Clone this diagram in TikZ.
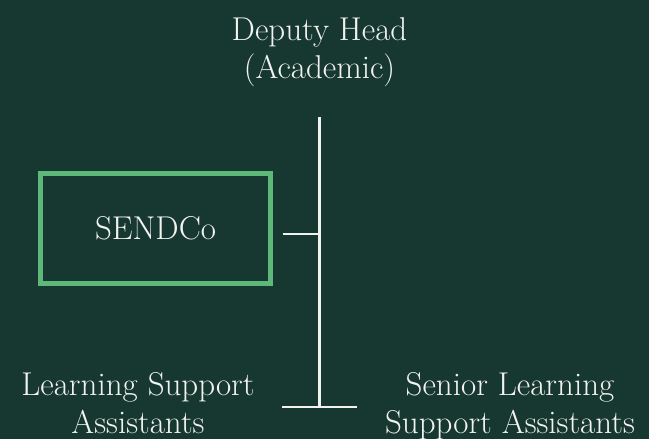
\documentclass[tikz,border=0pt]{standalone}
\usepackage{tikz}
\usetikzlibrary{positioning,calc}
\usepackage{xcolor}
\definecolor{bgGreen}{HTML}{173731}
\definecolor{boxGreen}{HTML}{5DB879}
\definecolor{inkWhite}{HTML}{F2F2EE}
\tikzset{
  role/.style={text=inkWhite, align=center, inner sep=0pt,
               font=\fontsize{33}{38}\selectfont},
  postbox/.style={role, draw=boxGreen, line width=5pt, minimum width=230pt,
                  minimum height=110pt},
  link/.style={draw=inkWhite, line width=2.4pt},
}

\begin{document}
\begin{tikzpicture}[x=1pt, y=-1pt]
    \fill[bgGreen] (0,0) rectangle (649,439);
    \useasboundingbox (0,0) rectangle (649,439);
    \node[role] (deputy) at (319.5,51.7) {Deputy Head\\(Academic)};
    \node[postbox] (sendco) at (155.5,228.5) {SENDCo};
    \node[role] (lsa) at (138,402.7) {Learning Support\\Assistants};
    \node[role] (slsa) at (510,405.8) {Senior Learning\\Support Assistants};
    \coordinate (spineTop) at (319.5,117);
    \coordinate (spineEnd) at (319.5,407);
    \coordinate (barL) at (282,407);
    \coordinate (barR) at (357,407);
    \draw[link] (spineTop) -- (spineEnd);
    \draw[link] ([xshift=10pt,yshift=-5.5pt]sendco.east)
      -- ([yshift=-5.5pt]sendco.east -| spineTop);
    \draw[link] (barL) -- (barR);
\end{tikzpicture}
\end{document}
